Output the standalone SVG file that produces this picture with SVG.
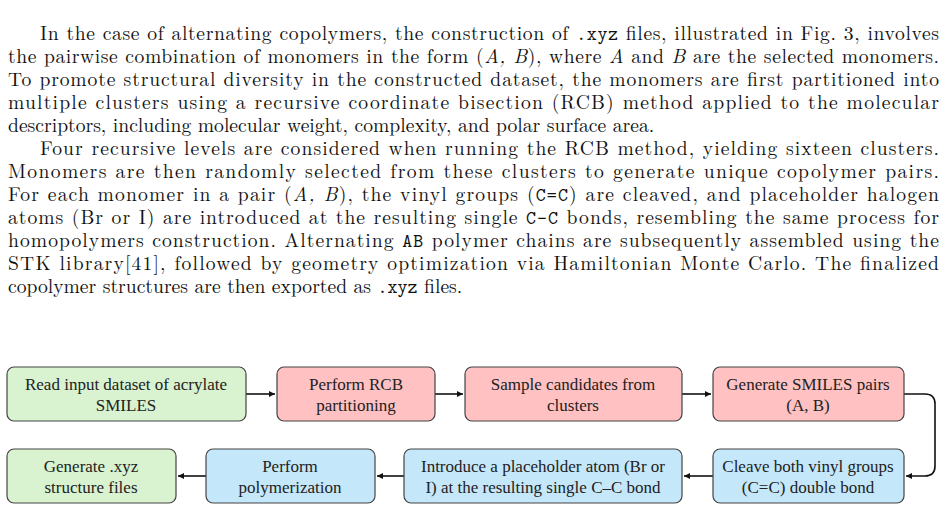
<svg xmlns="http://www.w3.org/2000/svg" width="947" height="510" viewBox="0 0 947 510">
<style>
.p{font-family:"Latin Modern Roman","Liberation Serif",serif;font-size:19.6px;fill:#111}
.tt{font-family:"Latin Modern Mono","Liberation Mono",monospace;font-size:19px}
.m{font-style:italic}
.b{stroke:#444;stroke-width:1.2}
.g{fill:#d9f2d0}.r{fill:#ffc1c1}.u{fill:#c5e7fa}
.t{font-family:"Liberation Serif",serif;font-size:17px;fill:#222;text-anchor:middle}
.c{fill:none;stroke:#111;stroke-width:1.6}
</style>
<defs><marker id="a" markerWidth="8" markerHeight="8" refX="6" refY="4" orient="auto" markerUnits="userSpaceOnUse"><path d="M0,1 L6,4 L0,7z" fill="#111"/></marker></defs>
<rect width="947" height="510" fill="#fff"/>
<g class="p">
<text x="40" y="40" textLength="899" lengthAdjust="spacing">In the case of alternating copolymers, the construction of <tspan class="tt">.xyz</tspan> files, illustrated in Fig. 3, involves</text>
<text x="8" y="63" textLength="931" lengthAdjust="spacing">the pairwise combination of monomers in the form (<tspan class="m">A, B</tspan>), where <tspan class="m">A</tspan> and <tspan class="m">B</tspan> are the selected monomers.</text>
<text x="8" y="86" textLength="931" lengthAdjust="spacing">To promote structural diversity in the constructed dataset, the monomers are first partitioned into</text>
<text x="8" y="109" textLength="931" lengthAdjust="spacing">multiple clusters using a recursive coordinate bisection (RCB) method applied to the molecular</text>
<text x="8" y="132">descriptors, including molecular weight, complexity, and polar surface area.</text>
<text x="40" y="155" textLength="899" lengthAdjust="spacing">Four recursive levels are considered when running the RCB method, yielding sixteen clusters.</text>
<text x="8" y="178" textLength="931" lengthAdjust="spacing">Monomers are then randomly selected from these clusters to generate unique copolymer pairs.</text>
<text x="8" y="201" textLength="931" lengthAdjust="spacing">For each monomer in a pair (<tspan class="m">A, B</tspan>), the vinyl groups (<tspan class="tt">C=C</tspan>) are cleaved, and placeholder halogen</text>
<text x="8" y="224" textLength="931" lengthAdjust="spacing">atoms (Br or I) are introduced at the resulting single <tspan class="tt">C-C</tspan> bonds, resembling the same process for</text>
<text x="8" y="247" textLength="931" lengthAdjust="spacing">homopolymers construction. Alternating <tspan class="tt">AB</tspan> polymer chains are subsequently assembled using the</text>
<text x="8" y="270" textLength="931" lengthAdjust="spacing">STK library[41], followed by geometry optimization via Hamiltonian Monte Carlo. The finalized</text>
<text x="8" y="293">copolymer structures are then exported as <tspan class="tt">.xyz</tspan> files.</text>
</g>
<g id="connectors">
<path class="c" d="M246,394 H275" marker-end="url(#a)"/>
<path class="c" d="M435,394 H463" marker-end="url(#a)"/>
<path class="c" d="M682,394 H711" marker-end="url(#a)"/>
<path class="c" d="M904,394 H925 Q935,394 935,404 V466 Q935,476 925,476 H906" marker-end="url(#a)"/>
<path class="c" d="M713,476 H684" marker-end="url(#a)"/>
<path class="c" d="M404,476 H377" marker-end="url(#a)"/>
<path class="c" d="M206,476 H178" marker-end="url(#a)"/>
</g>
<g id="n1"><rect class="b g" x="7" y="367" width="239" height="54" rx="7"/><text class="t" x="126" y="390">Read input dataset of acrylate</text><text class="t" x="126" y="411">SMILES</text></g>
<g id="n2"><rect class="b r" x="277" y="367" width="158" height="54" rx="7"/><text class="t" x="356" y="390">Perform RCB</text><text class="t" x="356" y="411">partitioning</text></g>
<g id="n3"><rect class="b r" x="465" y="367" width="217" height="54" rx="7"/><text class="t" x="573" y="390">Sample candidates from</text><text class="t" x="573" y="411">clusters</text></g>
<g id="n4"><rect class="b r" x="713" y="367" width="191" height="54" rx="7"/><text class="t" x="808" y="390">Generate SMILES pairs</text><text class="t" x="808" y="411">(A, B)</text></g>
<g id="n5"><rect class="b u" x="713" y="449" width="191" height="54" rx="7"/><text class="t" x="808" y="472">Cleave both vinyl groups</text><text class="t" x="808" y="493">(C=C) double bond</text></g>
<g id="n6"><rect class="b u" x="404" y="449" width="278" height="54" rx="7"/><text class="t" x="543" y="472">Introduce a placeholder atom (Br or</text><text class="t" x="543" y="493">I) at the resulting single C–C bond</text></g>
<g id="n7"><rect class="b u" x="206" y="449" width="169" height="54" rx="7"/><text class="t" x="290" y="472">Perform</text><text class="t" x="290" y="493">polymerization</text></g>
<g id="n8"><rect class="b g" x="7" y="449" width="169" height="54" rx="7"/><text class="t" x="91" y="472">Generate .xyz</text><text class="t" x="91" y="493">structure files</text></g>
</svg>
